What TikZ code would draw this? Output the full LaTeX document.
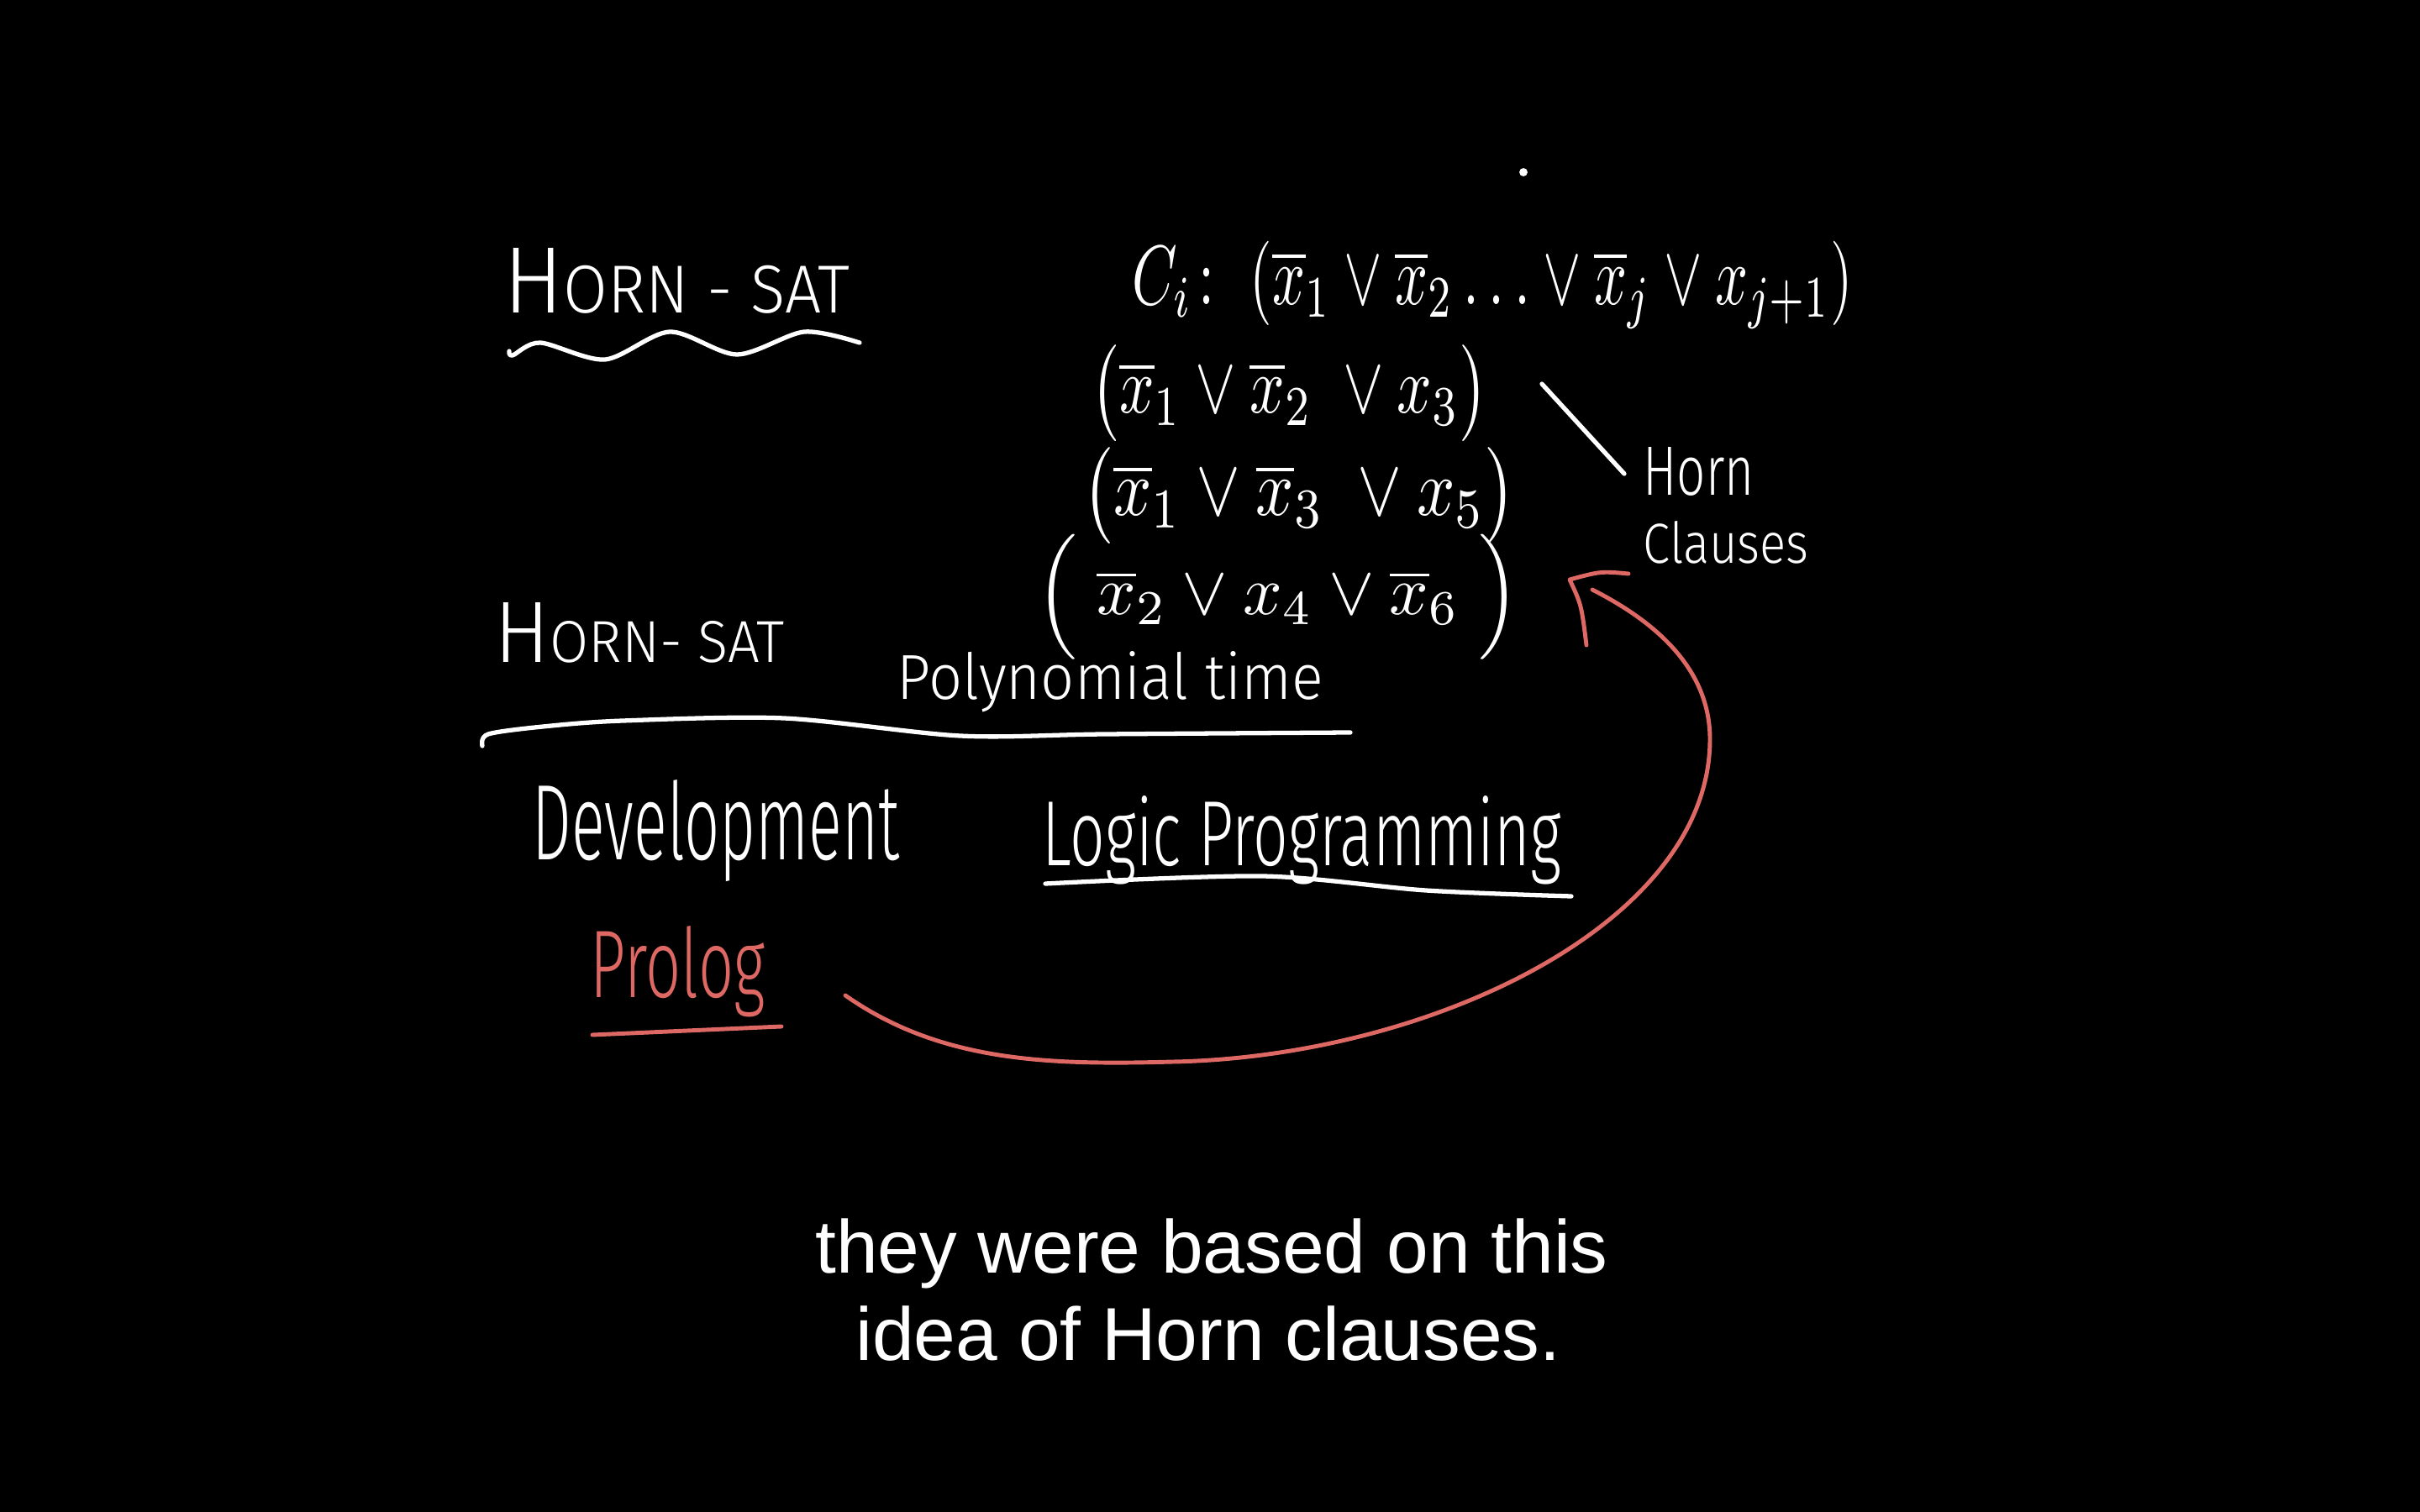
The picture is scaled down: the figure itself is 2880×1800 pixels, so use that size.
\documentclass[tikz,border=0pt]{standalone}
\usepackage[no-math]{fontspec}
\usepackage{amsmath}
\usepackage{graphicx}
\setmainfont{Liberation Sans}
\newfontfamily\hand{Fira Sans Light}
\newfontfamily\subfont{Liberation Sans}
\newlength\pxu
\setlength\pxu{0.01cm}
\newcommand\fitto[3]{\resizebox*{#1\pxu}{#2\pxu}{#3}}
\newcommand\fitbase[3]{\resizebox{#1\pxu}{#2\pxu}{#3}}
\definecolor{prored}{RGB}{222,104,100}
\tikzset{
  hw/.style={anchor=south west, inner sep=0pt, text=white, font=\hand},
  hwb/.style={anchor=base west, inner sep=0pt, text=white, font=\hand},
  hwred/.style={hwb, text=prored},
  chalk/.style={draw=white, line width=1.5pt, line cap=round, line join=round},
  redchalk/.style={draw=prored, line width=1.4pt, line cap=round, line join=round},
  subtitle/.style={anchor=base, inner sep=0pt, text=white, font=\subfont\fontsize{25.4}{30}\selectfont}
}
\begin{document}
\begin{tikzpicture}[x=0.01cm, y=-0.01cm]
\fill[black] (0,0) rectangle (2880,1800);
\useasboundingbox (0,0) rectangle (2880,1800);

% titles
\node[hwb] (horn1) at (599,373) {\fitbase{412}{77}{H\scalebox{0.72}{ORN - SAT}}};
\draw[chalk] plot[smooth] coordinates {(606,418) (610,423) (643,408) (720,428) (797,395) (877,422) (957,395) (1023,408)};

\node[hw] (ci) at (1347,392) {\fitto{857}{104}{$C_i\colon\ (\overline{x}_1\vee\overline{x}_2\ldots\vee\overline{x}_j\vee x_{j+1})$}};
\fill[white] (1813,205) circle (1.4pt);

\node[hw] (cl1) at (1298,526) {\fitto{472}{115}{$\bigl(\overline{x}_1\vee\overline{x}_2\;\vee x_3\bigr)$}};
\node[hw] (cl2) at (1288,648) {\fitto{515}{115}{$\bigl(\overline{x}_1\vee\overline{x}_3\;\vee x_5\bigr)$}};
\node[hw] (cl3) at (1233,786) {\fitto{575}{149}{$\Bigl(\;\overline{x}_2\vee x_4\vee\overline{x}_6\;\Bigr)$}};

\node[hwb] (horn) at (1955,590) {\fitbase{132}{57}{Horn}};
\node[hwb] (clauses) at (1955,670) {\fitbase{197}{50}{Clauses}};
\coordinate (hl1) at (1835,457);
\coordinate (hl2) at (1933,564);
\draw[chalk] (hl1) -- (hl2);

\node[hwb] (horn2) at (588,788) {\fitbase{345}{71}{H\scalebox{0.68}{ORN- SAT}}};
\node[hwb] (poly) at (1067,832) {\fitbase{507}{57}{Polynomial time}};
\draw[chalk] plot[smooth] coordinates {(574,888) (581,874) (646,865) (741,858) (933,855) (1143,876) (1315,874) (1607,872)};

\node[hwb] (dev) at (633,1023) {\fitbase{437}{95}{Development}};
\node[hwb] (logic) at (1240,1030) {\fitbase{617}{83}{Logic Programming}};
\draw[chalk] plot[smooth] coordinates {(1244,1052) (1502,1043) (1697,1060) (1870,1067)};

\node[hwred] (prolog) at (702,1187) {\fitbase{208}{85}{Prolog}};
\draw[redchalk] (705,1232) -- (930,1222);

% red arrow from Prolog to the Horn clauses
\coordinate (as) at (1006,1185);
\coordinate (ae) at (1895,702);
\coordinate (tip) at (1868,690);
\draw[redchalk] (as) .. controls (1120,1265) and (1250,1268) .. (1396,1264)
  .. controls (1700,1258) and (2035,1100) .. (2035,880)
  .. controls (2035,790) and (1960,735) .. (ae);
\draw[redchalk] (1938,683) .. controls (1905,680) .. (tip) .. controls (1882,720) .. (1888,768);

% subtitle
\node[subtitle] (sub1) at (1442,1515) {they were based on this};
\node[subtitle] (sub2) at (1438,1619) {idea of Horn clauses.};
\end{tikzpicture}
\end{document}
